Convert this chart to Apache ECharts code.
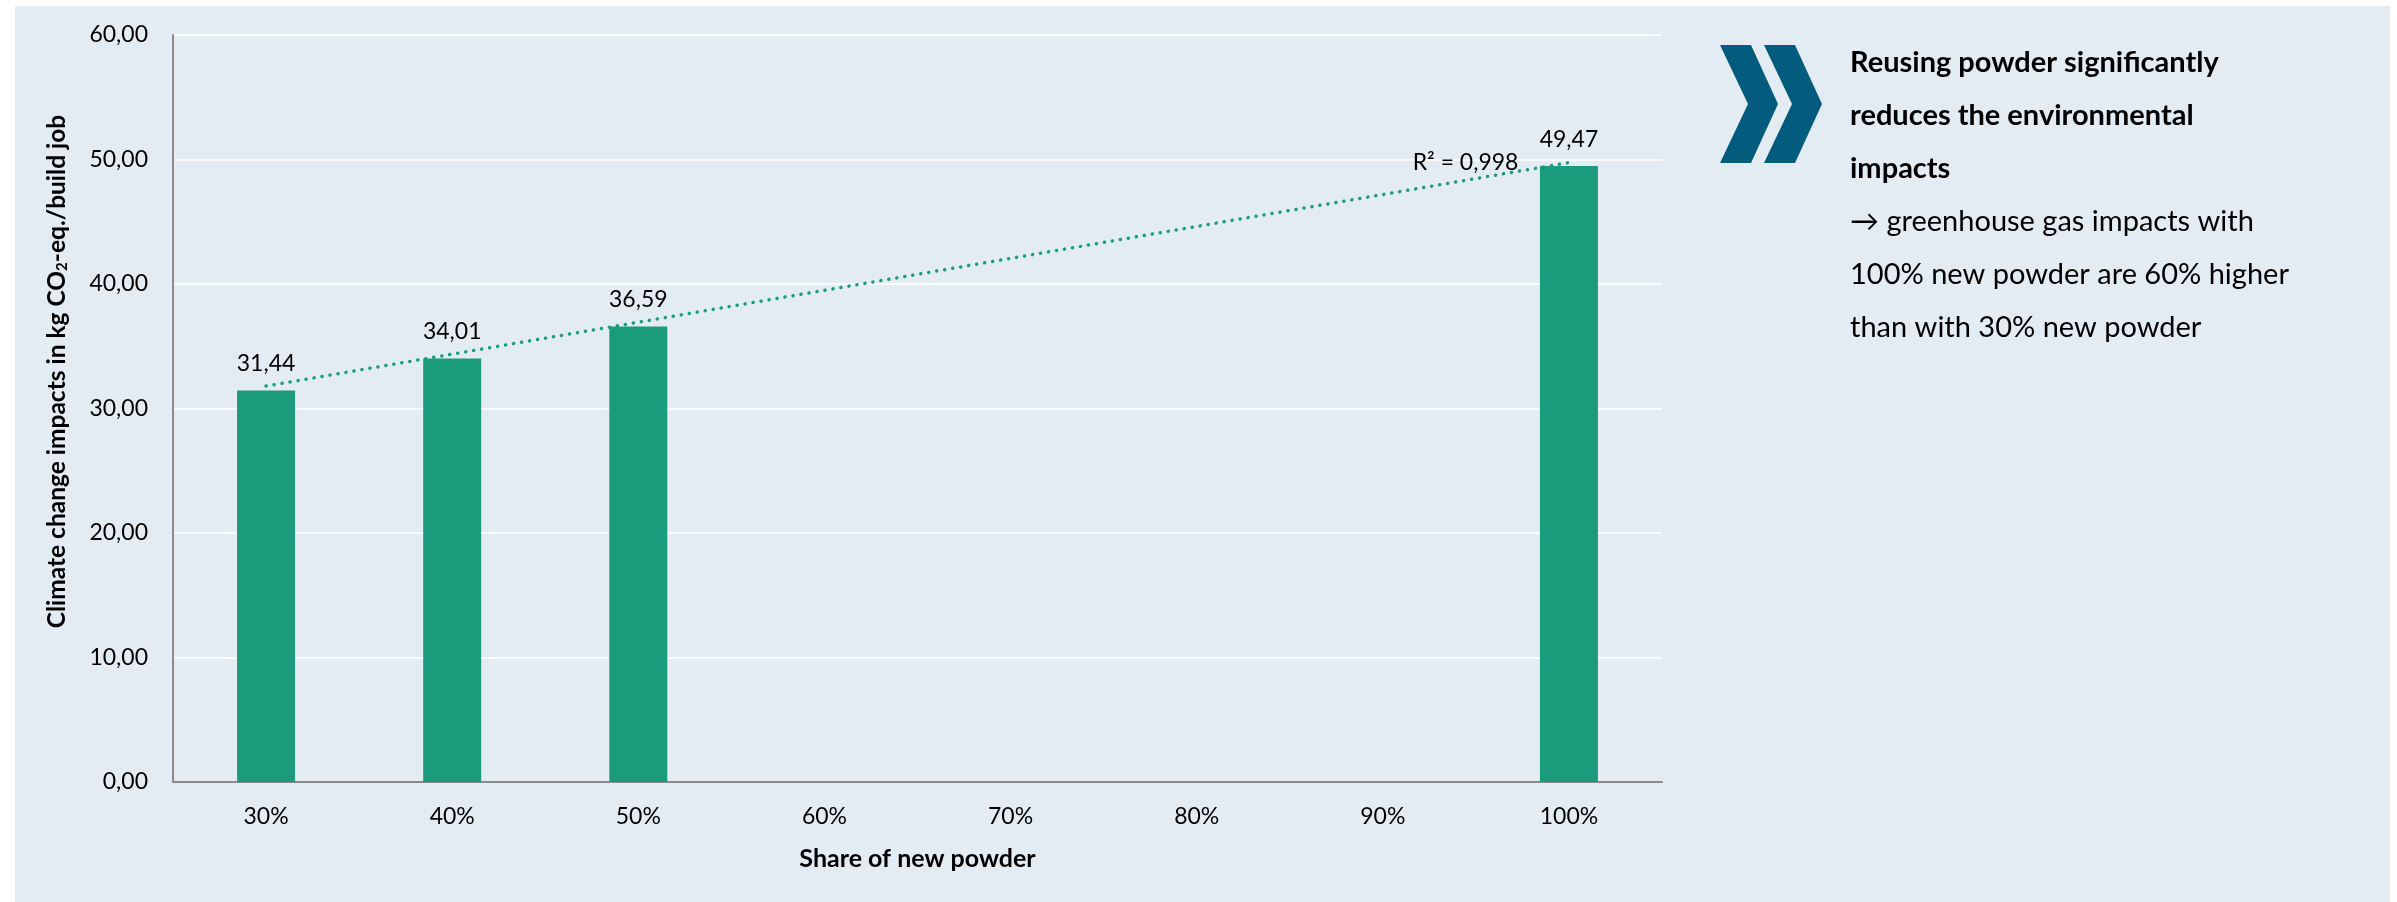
<!DOCTYPE html>
<html>
<head>
<meta charset="utf-8">
<script src="https://cdn.jsdelivr.net/npm/echarts@6/dist/echarts.min.js"></script>
<style>
  html, body { margin: 0; padding: 0; background: #ffffff; }
  #chart {
    position: absolute;
    left: 15px;
    top: 6px;
    width: 2375px;
    height: 896px;
    background-color: #e4ecf3;
  }
</style>
</head>
<body>
<div id="chart"></div>
<script>
// data
const categories = ["30%", "40%", "50%", "60%", "70%", "80%", "90%", "100%"];
const impactValues = [31.44, 34.01, 36.59, null, null, null, null, 49.47];
// trendline end points (as drawn), gaps joined
const trendValues = [31.8, null, null, null, null, null, null, 49.75];
const rSquaredText = "R² = 0,998";
const yTicks = [0, 10, 20, 30, 40, 50, 60];

const font = "Lato, 'Noto Sans', sans-serif";
const barColor = "#1a9c7c";
const fmt = (v) => v.toFixed(2).replace(".", ",");

let myChart = echarts.init(document.getElementById("chart"));

let option = {
  animation: false,
  textStyle: { fontFamily: font },
  grid: {
    left: 158,
    right: 728,
    top: 29,
    bottom: 120,
  },
  xAxis: {
    type: "category",
    data: categories,
    name: "Share of new powder",
    nameLocation: "middle",
    nameGap: 64,
    nameTextStyle: {
      fontFamily: font,
      fontWeight: "bold",
      fontSize: 25,
      color: "#000",
    },
    axisLine: { lineStyle: { color: "#8a8a8a", width: 2 } },
    axisTick: { show: false },
    axisLabel: { fontSize: 23, color: "#000", margin: 23 },
  },
  yAxis: {
    type: "value",
    min: yTicks[0],
    max: yTicks[yTicks.length - 1],
    interval: 10,
    name: "Climate change impacts in kg CO{sub|2}-eq./build job",
    nameLocation: "middle",
    nameGap: 103,
    nameRotate: 90,
    nameTextStyle: {
      fontFamily: font,
      fontWeight: "bold",
      fontSize: 24.5,
      color: "#000",
      padding: [0, 0, 0, 74],
      rich: {
        sub: {
          fontFamily: font,
          fontWeight: "bold",
          fontSize: 15,
          color: "#000",
          verticalAlign: "bottom",
          padding: [9, 0, 0, 0],
        },
      },
    },
    axisLine: { show: true, lineStyle: { color: "#8a8a8a", width: 2 } },
    axisTick: { show: false },
    axisLabel: {
      fontSize: 23,
      color: "#000",
      margin: 25,
      formatter: (v) => fmt(v),
    },
    splitLine: { lineStyle: { color: "#ffffff", width: 1.5 } },
  },
  series: [
    {
      name: "impacts",
      type: "bar",
      data: impactValues,
      barWidth: 58,
      itemStyle: { color: barColor },
      label: {
        show: true,
        position: "top",
        distance: 15,
        fontSize: 23,
        color: "#000",
        formatter: (p) => fmt(p.value),
      },
    },
    {
      name: "trend",
      type: "line",
      data: trendValues.map((v, i) =>
        i === trendValues.length - 1
          ? {
              value: v,
              label: {
                show: true,
                position: "left",
                distance: 50,
                fontSize: 23,
                color: "#000",
                formatter: rSquaredText,
              },
            }
          : v
      ),
      connectNulls: true,
      symbol: "circle",
      symbolSize: 1,
      showSymbol: true,
      itemStyle: { color: "rgba(0,0,0,0)" },
      z: 5,
      lineStyle: {
        color: barColor,
        width: 3.5,
        type: [0.1, 8],
        cap: "round",
      },
    },
  ],
  graphic: [
    {
      type: "polygon",
      shape: {
        points: [[1705, 39], [1736, 39], [1763, 98], [1736, 157], [1705, 157], [1733, 98]],
      },
      style: { fill: "#035b7d" },
    },
    {
      type: "polygon",
      shape: {
        points: [[1749, 39], [1780, 39], [1807, 98], [1780, 157], [1749, 157], [1777, 98]],
      },
      style: { fill: "#035b7d" },
    },
    {
      type: "text",
      left: 1835,
      top: 30,
      style: {
        text: "Reusing powder significantly\nreduces the environmental\nimpacts",
        fontFamily: font,
        fontWeight: "bold",
        fontSize: 29,
        lineHeight: 53,
        fill: "#000",
      },
    },
    {
      type: "text",
      left: 1835,
      top: 189,
      style: {
        text: "→ greenhouse gas impacts with\n100% new powder are 60% higher\nthan with 30% new powder",
        fontFamily: font,
        fontSize: 29,
        lineHeight: 53,
        fill: "#000",
      },
    },
  ],
};
myChart.setOption(option);
</script>
</body>
</html>
